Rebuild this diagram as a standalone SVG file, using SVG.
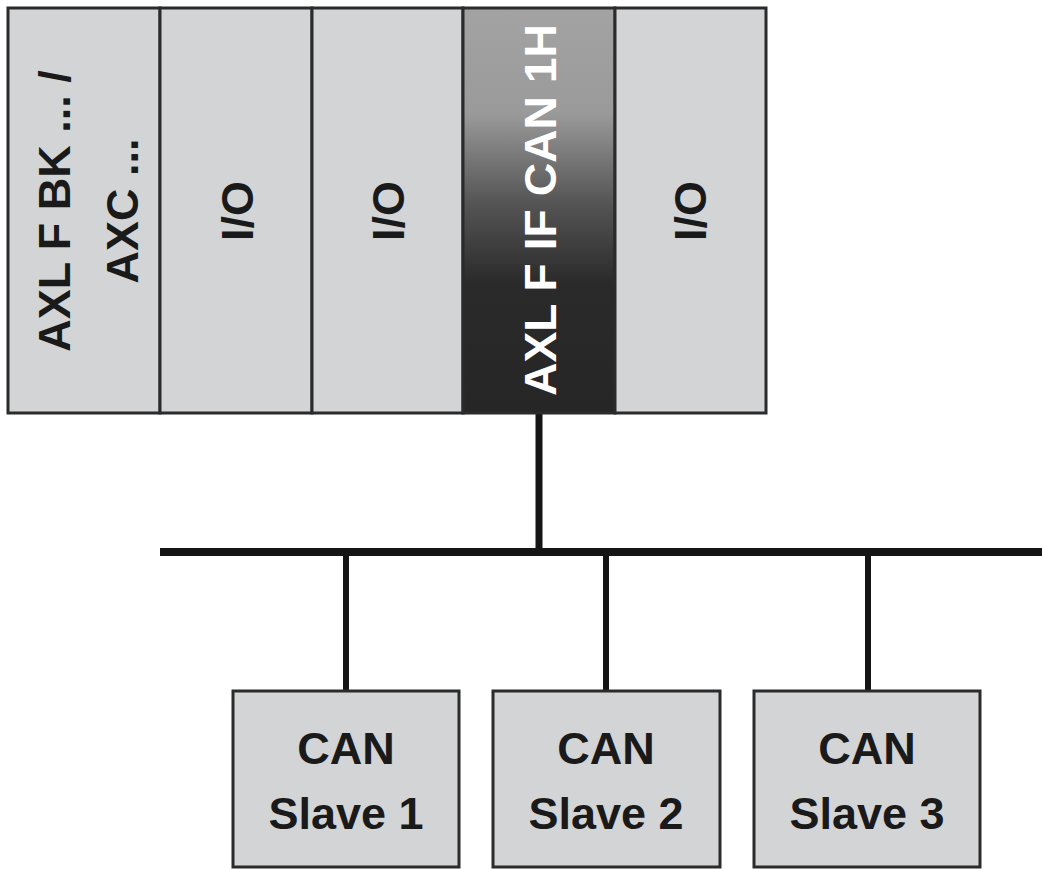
<svg xmlns="http://www.w3.org/2000/svg" width="1042" height="869" viewBox="0 0 1042 869">
<style>
.mod{fill:#d3d4d6;stroke:#2b2b2b;stroke-width:3}
.lbl{font-family:"Liberation Sans",Arial,sans-serif;font-weight:bold;font-size:45px;fill:#1a1a1a;text-anchor:middle}
.wht{fill:#ffffff}
.wire{stroke:#151515;fill:none;stroke-linecap:butt}
</style>
<defs>
<linearGradient id="g" x1="0" y1="0" x2="0" y2="1">
<stop offset="0" stop-color="#a3a3a3"/>
<stop offset="0.26" stop-color="#9a9a9a"/>
<stop offset="0.48" stop-color="#555555"/>
<stop offset="0.68" stop-color="#2a2a2a"/>
<stop offset="1" stop-color="#262626"/>
</linearGradient>
</defs>
<rect x="0" y="0" width="1042" height="869" fill="#ffffff"/>
<g id="connectors">
<line class="wire" x1="539" y1="413" x2="539" y2="553" stroke-width="7"/>
<line class="wire" x1="160" y1="552" x2="1042" y2="552" stroke-width="8"/>
<line class="wire" x1="346" y1="552" x2="346" y2="691" stroke-width="6"/>
<line class="wire" x1="606" y1="552" x2="606" y2="691" stroke-width="6"/>
<line class="wire" x1="868" y1="552" x2="868" y2="691" stroke-width="6"/>
</g>
<g id="bk">
<rect class="mod" x="8" y="8" width="152" height="405"/>
<text class="lbl" transform="translate(70,211) rotate(-90)">AXL F BK ... /</text>
<text class="lbl" transform="translate(138,211) rotate(-90)">AXC ...</text>
</g>
<g id="io1">
<rect class="mod" x="160" y="8" width="152" height="405"/>
<text class="lbl" transform="translate(253,211) rotate(-90)">I/O</text>
</g>
<g id="io2">
<rect class="mod" x="312" y="8" width="151" height="405"/>
<text class="lbl" transform="translate(404,211) rotate(-90)">I/O</text>
</g>
<g id="ifcan">
<rect x="463" y="8" width="152" height="405" fill="url(#g)" stroke="#2b2b2b" stroke-width="3"/>
<text class="lbl wht" transform="translate(556,210) rotate(-90)" textLength="372" lengthAdjust="spacingAndGlyphs">AXL F IF CAN 1H</text>
</g>
<g id="io3">
<rect class="mod" x="615" y="8" width="151" height="405"/>
<text class="lbl" transform="translate(706,211) rotate(-90)">I/O</text>
</g>
<g id="slave1">
<rect class="mod" x="233" y="691" width="226" height="176" stroke-width="4"/>
<text class="lbl" x="346" y="764">CAN</text>
<text class="lbl" x="346" y="829">Slave 1</text>
</g>
<g id="slave2">
<rect class="mod" x="493" y="691" width="227" height="176" stroke-width="4"/>
<text class="lbl" x="606" y="764">CAN</text>
<text class="lbl" x="606" y="829">Slave 2</text>
</g>
<g id="slave3">
<rect class="mod" x="754" y="691" width="226" height="176" stroke-width="4"/>
<text class="lbl" x="867" y="764">CAN</text>
<text class="lbl" x="867" y="829">Slave 3</text>
</g>
</svg>
